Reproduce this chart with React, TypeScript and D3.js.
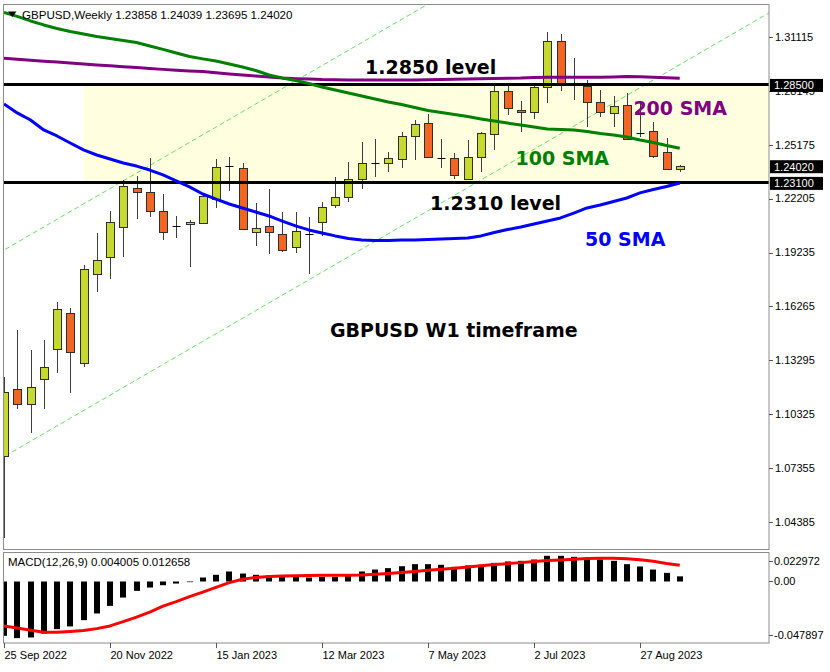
import React, { useRef, useEffect } from 'react';
import * as d3 from 'd3';

// weekly GBPUSD bars, 25 Sep 2022 .. 17 Sep 2023
const opens = [1.0803, 1.1171, 1.1090, 1.1226, 1.1392, 1.1592, 1.1313, 1.1805, 1.1897, 1.2066, 1.2277, 1.2257, 1.2152, 1.2072, 1.2081, 1.2088, 1.2218, 1.2398, 1.2388, 1.2035, 1.2070, 1.2026, 1.1952, 1.2031, 1.2090, 1.2185, 1.2228, 1.2327, 1.2412, 1.2415, 1.2439, 1.2567, 1.2636, 1.2450, 1.2443, 1.2329, 1.2448, 1.2577, 1.2815, 1.2709, 1.2696, 1.2834, 1.3091, 1.2862, 1.2841, 1.2755, 1.2691, 1.2737, 1.2586, 1.2593, 1.2476, 1.23858];
const highs = [1.1239, 1.1496, 1.1386, 1.1441, 1.1649, 1.1616, 1.1856, 1.2029, 1.2152, 1.2323, 1.2345, 1.2446, 1.2244, 1.2125, 1.2103, 1.2240, 1.2439, 1.2448, 1.2415, 1.2195, 1.2272, 1.2148, 1.2145, 1.2118, 1.2204, 1.2341, 1.2424, 1.2531, 1.2548, 1.2479, 1.2589, 1.2654, 1.2685, 1.2548, 1.2474, 1.2544, 1.2589, 1.2848, 1.2847, 1.2760, 1.2860, 1.3141, 1.3128, 1.2994, 1.2874, 1.2819, 1.2786, 1.2801, 1.2746, 1.2645, 1.2553, 1.24039];
const lows = [1.0350, 1.1059, 1.0927, 1.1061, 1.1258, 1.1147, 1.1291, 1.1707, 1.1776, 1.1900, 1.2107, 1.2121, 1.1992, 1.2002, 1.1842, 1.2085, 1.2170, 1.2263, 1.2048, 1.1961, 1.1915, 1.1928, 1.1922, 1.1803, 1.2015, 1.2167, 1.2204, 1.2274, 1.2341, 1.2369, 1.2388, 1.2433, 1.2444, 1.2388, 1.2327, 1.2326, 1.2366, 1.2489, 1.2681, 1.2589, 1.2658, 1.2749, 1.2815, 1.2764, 1.2617, 1.2669, 1.2617, 1.2546, 1.2562, 1.2443, 1.2378, 1.23695];
const closes = [1.1156, 1.1090, 1.1182, 1.1294, 1.1614, 1.1373, 1.1833, 1.1882, 1.2093, 1.2290, 1.2259, 1.2152, 1.2035, 1.2068, 1.2093, 1.2235, 1.2397, 1.2402, 1.2053, 1.2057, 1.2038, 1.1937, 1.2042, 1.2028, 1.2176, 1.2231, 1.2329, 1.2415, 1.2415, 1.2446, 1.2567, 1.2630, 1.2448, 1.2447, 1.2351, 1.2448, 1.2581, 1.2815, 1.2722, 1.2696, 1.2838, 1.3091, 1.2860, 1.2858, 1.2752, 1.2696, 1.2731, 1.2549, 1.2584, 1.2457, 1.2384, 1.24020];

const sma50 = [1.2742, 1.2693, 1.2654, 1.2599, 1.2566, 1.2527, 1.2489, 1.2461, 1.2439, 1.2417, 1.2400, 1.2378, 1.2351, 1.2318, 1.2285, 1.2246, 1.2218, 1.2191, 1.2169, 1.2147, 1.2125, 1.2097, 1.2070, 1.2048, 1.2031, 1.2015, 1.2001, 1.1992, 1.1990, 1.1990, 1.1992, 1.1992, 1.1995, 1.1998, 1.2001, 1.2003, 1.2015, 1.2034, 1.2050, 1.2064, 1.2081, 1.2097, 1.2114, 1.2141, 1.2169, 1.2185, 1.2205, 1.2224, 1.2252, 1.2271, 1.2287, 1.2307];
const sma100 = [1.3247, 1.3225, 1.3200, 1.3178, 1.3158, 1.3142, 1.3128, 1.3114, 1.3103, 1.3092, 1.3081, 1.3062, 1.3043, 1.3023, 1.3004, 1.2991, 1.2979, 1.2963, 1.2946, 1.2927, 1.2902, 1.2886, 1.2872, 1.2855, 1.2836, 1.2819, 1.2803, 1.2786, 1.2770, 1.2753, 1.2739, 1.2723, 1.2706, 1.2695, 1.2684, 1.2673, 1.2660, 1.2648, 1.2637, 1.2626, 1.2615, 1.2604, 1.2602, 1.2599, 1.2591, 1.2580, 1.2571, 1.2560, 1.2544, 1.2530, 1.2513, 1.2498];
const sma200 = [1.2994, 1.2989, 1.2983, 1.2978, 1.2973, 1.2968, 1.2962, 1.2957, 1.2953, 1.2948, 1.2943, 1.2938, 1.2933, 1.2928, 1.2924, 1.2921, 1.2914, 1.2908, 1.2902, 1.2896, 1.2891, 1.2885, 1.2882, 1.2880, 1.2877, 1.2876, 1.2874, 1.2874, 1.2874, 1.2874, 1.2874, 1.2874, 1.2876, 1.2877, 1.2878, 1.2880, 1.2881, 1.2883, 1.2884, 1.2885, 1.2888, 1.2889, 1.2889, 1.2889, 1.2889, 1.2889, 1.2891, 1.2894, 1.2892, 1.2889, 1.2887, 1.2884];

const macdHist = [-0.0423, -0.0441, -0.0436, -0.0405, -0.0371, -0.0350, -0.0301, -0.0249, -0.0190, -0.0125, -0.0073, -0.0047, -0.0029, -0.0016, -0.0005, 0.0031, 0.0052, 0.0078, 0.0062, 0.0052, 0.0047, 0.0042, 0.0042, 0.0031, 0.0036, 0.0036, 0.0042, 0.0078, 0.0093, 0.0104, 0.0119, 0.0135, 0.0135, 0.0130, 0.0114, 0.0125, 0.0130, 0.0145, 0.0156, 0.0161, 0.0171, 0.0200, 0.0200, 0.0192, 0.0182, 0.0171, 0.0161, 0.0135, 0.0117, 0.0093, 0.0067, 0.004005];
const macdSignal = [-0.0346, -0.0362, -0.0379, -0.0396, -0.0395, -0.0389, -0.0381, -0.0367, -0.0346, -0.0313, -0.0278, -0.0239, -0.0192, -0.0157, -0.0118, -0.0083, -0.0046, -0.0009, 0.0018, 0.0032, 0.0038, 0.0042, 0.0045, 0.0047, 0.0048, 0.0049, 0.0049, 0.0051, 0.0057, 0.0063, 0.0070, 0.0078, 0.0088, 0.0096, 0.0104, 0.0112, 0.0123, 0.0133, 0.0139, 0.0147, 0.0156, 0.0164, 0.0168, 0.0174, 0.0179, 0.0182, 0.0182, 0.0178, 0.0170, 0.0158, 0.0140, 0.012658];

const priceTicks = [1.31115, 1.28145, 1.25175, 1.22205, 1.19235, 1.16265, 1.13295, 1.10325, 1.07355, 1.04385];
const macdTicks = [0.022972, 0, -0.047897];
const macdTickLabels = ['0.022972', '0.00', '-0.047897'];
const timeLabels = ['25 Sep 2022', '20 Nov 2022', '15 Jan 2023', '12 Mar 2023', '7 May 2023', '2 Jul 2023', '27 Aug 2023'];
const timeLabelStep = 8;

const levels = [1.285, 1.231];
const lastPrice = 1.2402;
const zoneStartBar = 6;
const channelLow = [[0, 1.0798], [51, 1.2959]];
const channelHigh = [[0, 1.1937], [51, 1.4098]];

const notes = [
    { text: '1.2850 level', bar: 27.25, price: 1.2908, color: '#000000' },
    { text: '200 SMA', bar: 47.5, price: 1.2682, color: '#800080' },
    { text: '100 SMA', bar: 38.6, price: 1.2406, color: '#008000' },
    { text: '1.2310 level', bar: 32.15, price: 1.2158, color: '#000000' },
    { text: '50 SMA', bar: 43.85, price: 1.1959, color: '#0000ff' },
    { text: 'GBPUSD W1 timeframe', bar: 24.6, price: 1.1458, color: '#000000' },
];

const uiFont = 'Tahoma, "Liberation Sans", Arial, sans-serif';
const noteFont = '"DejaVu Sans", Verdana, sans-serif';

const App = () => {
    const svgRef = useRef<SVGSVGElement | null>(null);

    useEffect(() => {
        const svg = d3.select(svgRef.current);
        svg.selectAll('*').remove();

        const n = closes.length;
        const x = d3.scaleLinear().domain([0, n - 1]).range([4, 679.75]);
        const y = d3.scaleLinear().domain([1.02835, 1.32934]).range([550, 4]);
        const ym = d3.scaleLinear().domain([-0.047897, 0.022972]).range([643, 552]);
        const px = (i: number) => Math.round(x(i)) + 0.5;
        const py = (p: number) => Math.round(y(p)) + 0.5;

        svg.append('rect').attr('width', 830).attr('height', 672).attr('fill', '#ffffff');

        const defs = svg.append('defs');
        defs.append('clipPath').attr('id', 'main-clip').append('rect')
            .attr('x', 4).attr('y', 5).attr('width', 765).attr('height', 545);
        defs.append('clipPath').attr('id', 'macd-clip').append('rect')
            .attr('x', 4).attr('y', 553).attr('width', 765).attr('height', 90);

        const main = svg.append('g').attr('clip-path', 'url(#main-clip)');

        // support / resistance zone
        main.append('rect')
            .attr('x', x(zoneStartBar))
            .attr('y', y(levels[0]))
            .attr('width', 769 - x(zoneStartBar))
            .attr('height', y(levels[1]) - y(levels[0]))
            .attr('fill', '#ffffe0');

        // trend channel
        [channelLow, channelHigh].forEach((ch) => {
            const slope = (ch[1][1] - ch[0][1]) / (ch[1][0] - ch[0][0]);
            const at = (i: number) => ch[0][1] + slope * (i - ch[0][0]);
            main.append('line')
                .attr('x1', x(-2)).attr('y1', y(at(-2)))
                .attr('x2', x(60)).attr('y2', y(at(60)))
                .attr('stroke', '#66e066')
                .attr('stroke-width', 1)
                .attr('stroke-dasharray', '5,3');
        });

        // candles
        const bars = d3.range(n);
        const candle = main.append('g').selectAll('g').data(bars).join('g');
        candle.append('line')
            .attr('x1', (i) => px(i)).attr('x2', (i) => px(i))
            .attr('y1', (i) => Math.round(y(highs[i])))
            .attr('y2', (i) => Math.round(y(lows[i])))
            .attr('stroke', '#3c3c3c');
        const isDoji = (i: number) => Math.abs(y(opens[i]) - y(closes[i])) < 1.5;
        candle.filter((i) => !isDoji(i)).append('rect')
            .attr('x', (i) => px(i) - 4)
            .attr('y', (i) => py(Math.max(opens[i], closes[i])))
            .attr('width', 8)
            .attr('height', (i) => py(Math.min(opens[i], closes[i])) - py(Math.max(opens[i], closes[i])))
            .attr('fill', (i) => (closes[i] >= opens[i] ? '#c6d92e' : '#f26522'))
            .attr('stroke', '#2e2e2e');
        candle.filter((i) => isDoji(i)).append('line')
            .attr('x1', (i) => px(i) - 4).attr('x2', (i) => px(i) + 4)
            .attr('y1', (i) => py(closes[i])).attr('y2', (i) => py(closes[i]))
            .attr('stroke', '#000000');

        // horizontal levels
        levels.forEach((lv) => {
            main.append('line')
                .attr('x1', 0).attr('x2', 769)
                .attr('y1', y(lv)).attr('y2', y(lv))
                .attr('stroke', '#000000').attr('stroke-width', 3);
        });

        // moving averages
        const maLine = d3.line<number>().x((d, i) => x(i)).y((d) => y(d));
        [
            { data: sma200, color: '#800080' },
            { data: sma100, color: '#008000' },
            { data: sma50, color: '#0000ff' },
        ].forEach((ma) => {
            main.append('path')
                .attr('d', maLine(ma.data))
                .attr('fill', 'none')
                .attr('stroke', ma.color)
                .attr('stroke-width', 3)
                .attr('stroke-linejoin', 'round');
        });

        // text objects
        main.append('g').selectAll('text').data(notes).join('text')
            .attr('x', (d) => x(d.bar))
            .attr('y', (d) => y(d.price))
            .attr('fill', (d) => d.color)
            .attr('font-family', noteFont)
            .attr('font-weight', 'bold')
            .attr('font-size', 19)
            .text((d) => d.text);

        // header
        svg.append('path').attr('d', 'M8,11.5 L16.5,11.5 L12.25,17 Z').attr('fill', '#000');
        svg.append('text')
            .attr('x', 22).attr('y', 18.5)
            .attr('font-family', uiFont).attr('font-size', 11.6)
            .attr('fill', '#000')
            .text(`GBPUSD,Weekly ${opens[n - 1].toFixed(5)} ${highs[n - 1].toFixed(5)} ${lows[n - 1].toFixed(5)} ${closes[n - 1].toFixed(5)}`);

        // MACD panel
        const macd = svg.append('g').attr('clip-path', 'url(#macd-clip)');
        macd.append('g').selectAll('rect').data(bars).join('rect')
            .attr('x', (i) => px(i) - 3.5)
            .attr('width', 6)
            .attr('y', (i) => Math.min(ym(macdHist[i]), ym(0)))
            .attr('height', (i) => Math.abs(ym(macdHist[i]) - ym(0)))
            .attr('fill', '#000000');
        macd.append('path')
            .attr('d', maLine.y((d) => ym(d))(macdSignal))
            .attr('fill', 'none')
            .attr('stroke', '#ff0000')
            .attr('stroke-width', 3)
            .attr('stroke-linejoin', 'round');
        svg.append('text')
            .attr('x', 8).attr('y', 566)
            .attr('font-family', uiFont).attr('font-size', 11.5)
            .attr('fill', '#000')
            .text(`MACD(12,26,9) ${macdHist[n - 1].toFixed(6)} ${macdSignal[n - 1].toFixed(6)}`);

        // frames
        svg.append('rect').attr('x', 3.5).attr('y', 4.5).attr('width', 765.5).attr('height', 545)
            .attr('fill', 'none').attr('stroke', '#8c8c8c');
        svg.append('rect').attr('x', 3.5).attr('y', 552.5).attr('width', 765.5).attr('height', 90.5)
            .attr('fill', 'none').attr('stroke', '#8c8c8c');

        // price axis
        const axis = svg.append('g');
        priceTicks.forEach((t) => {
            axis.append('line').attr('x1', 769).attr('x2', 773).attr('y1', py(t)).attr('y2', py(t)).attr('stroke', '#555');
            axis.append('text')
                .attr('x', 775).attr('y', y(t)).attr('dy', '0.35em')
                .attr('font-family', uiFont).attr('font-size', 11).attr('fill', '#000')
                .text(t.toFixed(5));
        });
        [...levels, lastPrice].forEach((p) => {
            axis.append('rect')
                .attr('x', 770).attr('y', y(p) - 5.5).attr('width', 53).attr('height', 13)
                .attr('fill', '#000');
            axis.append('text')
                .attr('x', 774).attr('y', y(p) + 1).attr('dy', '0.35em')
                .attr('font-family', uiFont).attr('font-size', 11).attr('fill', '#fff')
                .text(p.toFixed(5));
        });

        // MACD axis
        macdTicks.forEach((t, k) => {
            const ty = Math.min(Math.max(ym(t), 561), 635);
            axis.append('line').attr('x1', 769).attr('x2', 773).attr('y1', Math.round(ty) + 0.5).attr('y2', Math.round(ty) + 0.5).attr('stroke', '#555');
            axis.append('text')
                .attr('x', 774).attr('y', ty).attr('dy', '0.35em')
                .attr('font-family', uiFont).attr('font-size', 11).attr('fill', '#000')
                .text(macdTickLabels[k]);
        });

        // time axis
        timeLabels.forEach((label, k) => {
            const tx = px(k * timeLabelStep);
            axis.append('line').attr('x1', tx).attr('x2', tx).attr('y1', 643).attr('y2', 648).attr('stroke', '#555');
            axis.append('text')
                .attr('x', tx).attr('y', 659)
                .attr('font-family', uiFont).attr('font-size', 11).attr('fill', '#000')
                .text(label);
        });
    }, []);

    return (
        <svg
            ref={svgRef}
            width={830}
            height={672}
            style={{ position: 'absolute', left: 0, top: 0, display: 'block' }}
        ></svg>
    );
};

export default App;
